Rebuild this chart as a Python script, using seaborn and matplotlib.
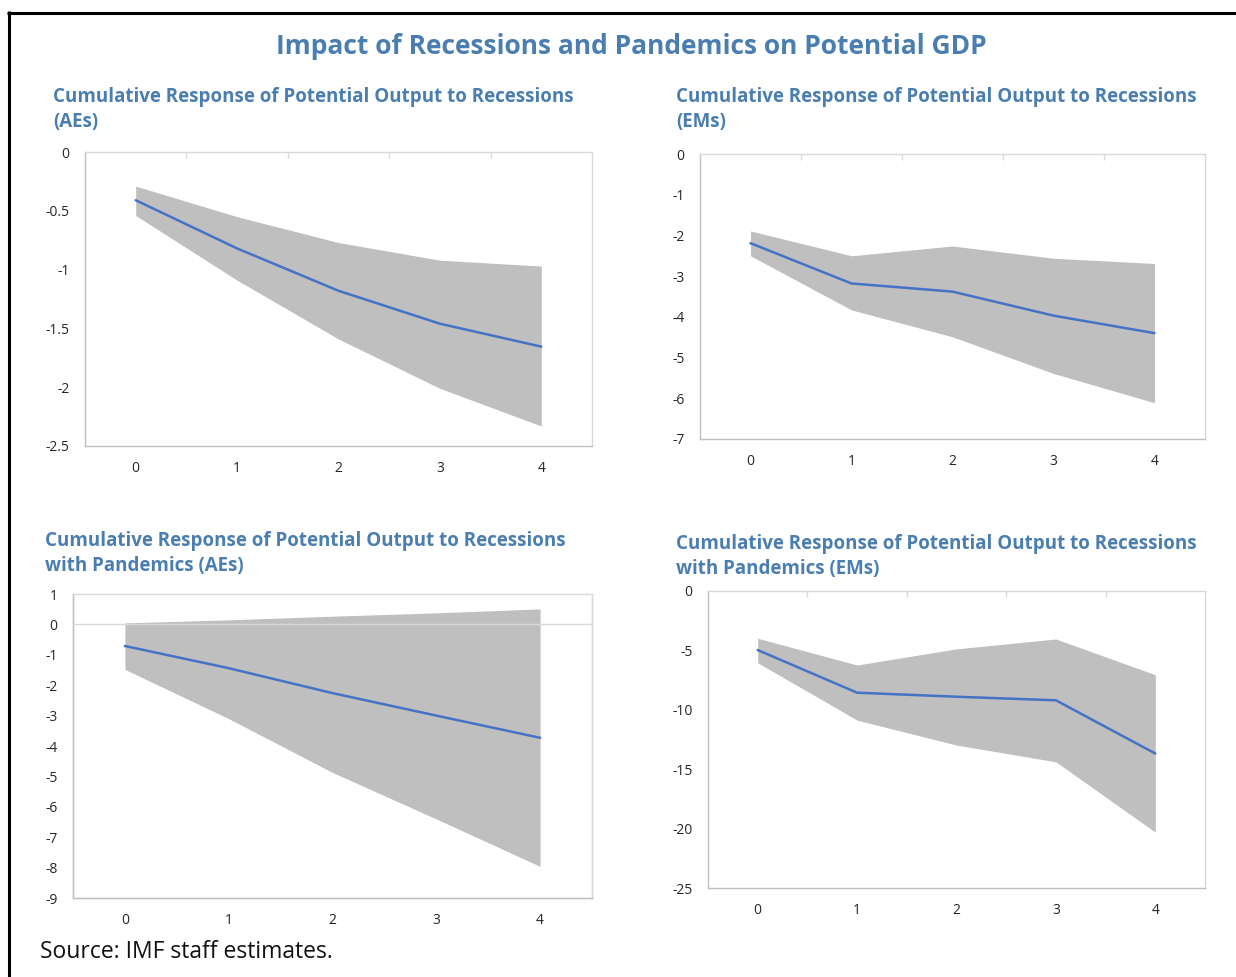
import matplotlib
matplotlib.use("Agg")
import matplotlib.pyplot as plt
from matplotlib.lines import Line2D
import seaborn as sns

sns.set_theme(style="white")
plt.rcParams['font.family'] = ['Open Sans', 'DejaVu Sans']

# Horizon (years after the recession starts)
horizon = [0, 1, 2, 3, 4]

# Recessions, advanced economies: point estimate and confidence band
ae_rec_mid = [-0.41, -0.82, -1.18, -1.46, -1.655]
ae_rec_hi = [-0.29, -0.55, -0.77, -0.92, -0.97]
ae_rec_lo = [-0.54, -1.09, -1.59, -2.01, -2.33]

# Recessions, emerging markets
em_rec_mid = [-2.19, -3.18, -3.38, -3.97, -4.40]
em_rec_hi = [-1.89, -2.50, -2.26, -2.56, -2.69]
em_rec_lo = [-2.50, -3.83, -4.49, -5.39, -6.11]

# Recessions with pandemics, advanced economies
ae_pan_mid = [-0.71, -1.44, -2.26, -3.00, -3.73]
ae_pan_hi = [0.05, 0.15, 0.27, 0.38, 0.51]
ae_pan_lo = [-1.48, -3.10, -4.87, -6.40, -7.96]

# Recessions with pandemics, emerging markets
em_pan_mid = [-4.97, -8.56, -8.90, -9.20, -13.68]
em_pan_hi = [-3.98, -6.23, -4.87, -4.04, -7.05]
em_pan_lo = [-6.04, -10.87, -12.97, -14.38, -20.30]

main_title = "Impact of Recessions and Pandemics on Potential GDP"
panel_titles = [
    ["Cumulative Response of Potential Output to Recessions", "(AEs)"],
    ["Cumulative Response of Potential Output to Recessions", "(EMs)"],
    ["Cumulative Response of Potential Output to Recessions", "with Pandemics (AEs)"],
    ["Cumulative Response of Potential Output to Recessions", "with Pandemics (EMs)"],
]
source_note = "Source: IMF staff estimates."

W, H = 1236, 977
TITLE_BLUE = "#4a7eb0"
LINE_BLUE = "#4472c4"
BAND_GREY = "#bfbfbf"
FRAME = "#d9d9d9"
AXIS = "#bfbfbf"
TICK_TEXT = "#262626"

fig = plt.figure(figsize=(W / 100, H / 100), dpi=100)


def px_axes(left, top, right, bottom):
    return fig.add_axes([left / W, 1 - bottom / H, (right - left) / W, (bottom - top) / H])


def label_fmt(v):
    return f"{v:g}".replace("\u2212", "-")


panels = [
    dict(box=(85, 152, 592, 446), mid=ae_rec_mid, lo=ae_rec_lo, hi=ae_rec_hi,
         ylim=(-2.5, 0), step=0.5, title_xy=(53, 102)),
    dict(box=(700, 154, 1205, 439), mid=em_rec_mid, lo=em_rec_lo, hi=em_rec_hi,
         ylim=(-7, 0), step=1, title_xy=(676, 102)),
    dict(box=(73, 594, 592, 898), mid=ae_pan_mid, lo=ae_pan_lo, hi=ae_pan_hi,
         ylim=(-9, 1), step=1, title_xy=(45, 546)),
    dict(box=(708, 591, 1205, 888), mid=em_pan_mid, lo=em_pan_lo, hi=em_pan_hi,
         ylim=(-25, 0), step=5, title_xy=(676, 549)),
]

for p, titles in zip(panels, panel_titles):
    ax = px_axes(*p["box"])
    ax.fill_between(horizon, p["lo"], p["hi"], color=BAND_GREY, linewidth=0, zorder=1)
    sns.lineplot(x=horizon, y=p["mid"], ax=ax, color=LINE_BLUE, linewidth=1.8, zorder=2)

    y0, y1 = p["ylim"]
    ax.set_xlim(-0.5, 4.5)
    ax.set_ylim(y0, y1)
    n = int(round((y1 - y0) / p["step"]))
    yt = [y0 + i * p["step"] for i in range(n + 1)]
    ax.set_yticks(yt)
    ax.set_yticklabels([label_fmt(round(v, 2)) for v in yt])
    ax.set_xticks(horizon)
    ax.set_xticklabels([str(h) for h in horizon])
    ax.set_xticks([0.5, 1.5, 2.5, 3.5], minor=True)

    ax.tick_params(axis="y", which="major", left=False, right=False, pad=5,
                   labelsize=10, labelcolor=TICK_TEXT)
    ax.tick_params(axis="x", which="major", bottom=False, top=False, pad=5,
                   labelsize=10, labelcolor=TICK_TEXT)
    ax.tick_params(axis="x", which="minor", bottom=False, top=True, direction="in",
                   length=4, width=1, color=FRAME)

    for side in ["left", "bottom", "right", "top"]:
        ax.spines[side].set_linewidth(1.0)
    ax.spines["left"].set_color(AXIS)
    ax.spines["bottom"].set_color(AXIS)
    ax.spines["right"].set_color(FRAME)
    ax.spines["top"].set_color(FRAME)

    if y1 > 0:
        # category axis crosses the value axis at zero
        ax.spines["top"].set_position(("data", 0))
        ax.spines["top"].set_zorder(3)
        ax.patch.set_edgecolor(FRAME)
        ax.patch.set_linewidth(1.0)

    tx, ty = p["title_xy"]
    fig.text(tx / W, 1 - ty / H, titles[0], color=TITLE_BLUE, fontsize=13.5,
             fontweight="bold", ha="left", va="baseline")
    fig.text(tx / W, 1 - (ty + 25) / H, titles[1], color=TITLE_BLUE, fontsize=13.5,
             fontweight="bold", ha="left", va="baseline")

fig.text(631 / W, 1 - 54 / H, main_title, color=TITLE_BLUE, fontsize=19,
         fontweight="bold", ha="center", va="baseline")
fig.text(40 / W, 1 - 958 / H, source_note, color="#111111", fontsize=16.5,
         ha="left", va="baseline")

# outer frame: top and left rules
fig.add_artist(Line2D([7 / W, 1], [1 - 12.5 / H, 1 - 12.5 / H], color="black",
                      linewidth=2.2, solid_capstyle="butt", transform=fig.transFigure))
fig.add_artist(Line2D([8.5 / W, 8.5 / W], [0, 1 - 11 / H], color="black",
                      linewidth=2.2, solid_capstyle="butt", transform=fig.transFigure))

fig.savefig("out.png", dpi=100)
